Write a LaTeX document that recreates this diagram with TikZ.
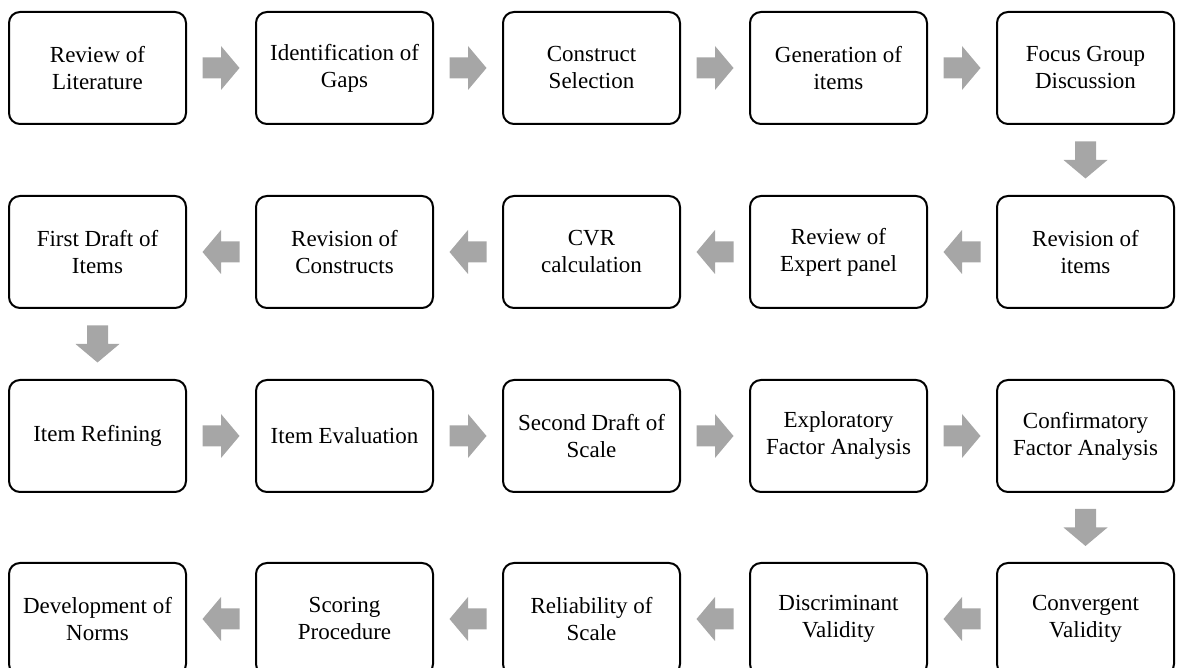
\documentclass[tikz,border=0pt]{standalone}
\usepackage{fontspec}
\setmainfont{Liberation Serif}
\usetikzlibrary{calc}

\tikzset{
  stepbox/.style={draw=black, line width=2pt, rounded corners=11pt, fill=white,
    minimum width=177pt, minimum height=112pt, align=center,
    font=\fontsize{23}{27}\selectfont, inner sep=4pt},
  blockfill/.style={fill=black!35, draw=none}
}

% gray block arrow drawn at the midpoint between two nodes, turned by #3 degrees
\newcommand\blockarrow[3]{%
  \path ($(#1)!0.5!(#2)$) coordinate (mid);
  \fill[blockfill, shift={(mid)}, rotate=#3]
    (-18.5,-10.5) -- (0,-10.5) -- (0,-22) -- (18.5,0) -- (0,22) -- (0,10.5) -- (-18.5,10.5) -- cycle;
}

\begin{document}
\begin{tikzpicture}[x=1pt, y=1pt]
  \useasboundingbox (0,0) rectangle (1177,668);
  \clip (0,0) rectangle (1177,668);

  % row 1 (left to right)
  \node[stepbox] (a1) at (97.5,600) {Review of\\Literature};
  \node[stepbox] (a2) at (344.5,600) {Identification of\\Gaps};
  \node[stepbox] (a3) at (591.5,600) {Construct\\Selection};
  \node[stepbox] (a4) at (838.5,600) {Generation of\\items};
  \node[stepbox] (a5) at (1085.5,600) {Focus Group\\Discussion};

  % row 2 (right to left)
  \node[stepbox] (b5) at (1085.5,416) {Revision of\\items};
  \node[stepbox] (b4) at (838.5,416) {Review of\\Expert panel};
  \node[stepbox] (b3) at (591.5,416) {CVR\\calculation};
  \node[stepbox] (b2) at (344.5,416) {Revision of\\Constructs};
  \node[stepbox] (b1) at (97.5,416) {First Draft of\\Items};

  % row 3 (left to right)
  \node[stepbox] (c1) at (97.5,232) {Item Refining};
  \node[stepbox] (c2) at (344.5,232) {Item Evaluation};
  \node[stepbox] (c3) at (591.5,232) {Second Draft of\\Scale};
  \node[stepbox] (c4) at (838.5,232) {Exploratory\\Factor Analysis};
  \node[stepbox] (c5) at (1085.5,232) {Confirmatory\\Factor Analysis};

  % row 4 (right to left)
  \node[stepbox] (d5) at (1085.5,49) {Convergent\\Validity};
  \node[stepbox] (d4) at (838.5,49) {Discriminant\\Validity};
  \node[stepbox] (d3) at (591.5,49) {Reliability of\\Scale};
  \node[stepbox] (d2) at (344.5,49) {Scoring\\Procedure};
  \node[stepbox] (d1) at (97.5,49) {Development of\\Norms};

  % flow arrows
  \blockarrow{a1.east}{a2.west}{0}
  \blockarrow{a2.east}{a3.west}{0}
  \blockarrow{a3.east}{a4.west}{0}
  \blockarrow{a4.east}{a5.west}{0}
  \blockarrow{a5.south}{b5.north}{-90}
  \blockarrow{b5.west}{b4.east}{180}
  \blockarrow{b4.west}{b3.east}{180}
  \blockarrow{b3.west}{b2.east}{180}
  \blockarrow{b2.west}{b1.east}{180}
  \blockarrow{b1.south}{c1.north}{-90}
  \blockarrow{c1.east}{c2.west}{0}
  \blockarrow{c2.east}{c3.west}{0}
  \blockarrow{c3.east}{c4.west}{0}
  \blockarrow{c4.east}{c5.west}{0}
  \blockarrow{c5.south}{d5.north}{-90}
  \blockarrow{d5.west}{d4.east}{180}
  \blockarrow{d4.west}{d3.east}{180}
  \blockarrow{d3.west}{d2.east}{180}
  \blockarrow{d2.west}{d1.east}{180}
\end{tikzpicture}
\end{document}
